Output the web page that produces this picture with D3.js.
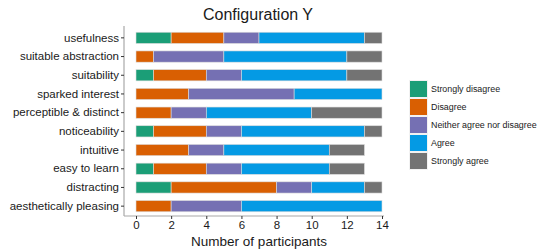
<!DOCTYPE html>
<meta charset="utf-8">
<style>
body { margin: 0; background: #fff; }
text { font-family: "Liberation Sans", Arial, sans-serif; fill: #1a1a1a; }
</style>
<svg width="546" height="252"></svg>
<script src="https://d3js.org/d3.v7.min.js"></script>
<script>

var items = ["usefulness", "suitable abstraction", "suitability", "sparked interest",
  "perceptible & distinct", "noticeability", "intuitive", "easy to learn",
  "distracting", "aesthetically pleasing"];
var levels = ["Strongly disagree", "Disagree", "Neither agree nor disagree", "Agree", "Strongly agree"];
var colors = ["#1b9e77", "#d95f02", "#7570b3", "#049ae4", "#737373"];

var stronglyDisagree = [2, 0, 1, 0, 0, 1, 0, 1, 2, 0];
var disagree         = [3, 1, 3, 3, 2, 3, 3, 3, 6, 2];
var neither          = [2, 4, 2, 6, 2, 2, 2, 2, 2, 4];
var agree            = [6, 7, 6, 5, 6, 7, 6, 5, 3, 8];
var stronglyAgree    = [1, 2, 2, 0, 4, 1, 2, 2, 1, 0];
var xTicks = [0, 2, 4, 6, 8, 10, 12, 14];

var series = [stronglyDisagree, disagree, neither, agree, stronglyAgree];
var table = items.map(function(name, i) {
  var row = { item: name };
  levels.forEach(function(l, j) { row[l] = series[j][i]; });
  return row;
});

var stack = d3.stack().keys(levels)(table);

var svg = d3.select("svg");

var x = d3.scaleLinear().domain([0, 14]).range([136, 382]);
var y = d3.scaleBand().domain(items).range([28.5, 215.5]).paddingInner(0.4).paddingOuter(0.2);

// title
svg.append("text")
  .attr("x", 258).attr("y", 20)
  .attr("text-anchor", "middle")
  .style("font-size", "16px")
  .text("Configuration Y");

// bars
svg.append("g").selectAll("g")
  .data(stack)
  .enter().append("g")
    .attr("fill", function(d, i) { return colors[i]; })
  .selectAll("rect")
  .data(function(d) { return d; })
  .enter().append("rect")
    .attr("x", function(d) { return x(d[0]); })
    .attr("y", function(d) { return y(d.data.item); })
    .attr("width", function(d) { return x(d[1]) - x(d[0]); })
    .attr("height", y.bandwidth())
    .attr("stroke", function(d) { return d[1] > d[0] ? "#dcdcdc" : "none"; })
    .attr("stroke-width", 0.6);

// axes
var yAxis = svg.append("g")
  .attr("transform", "translate(124,0)")
  .call(d3.axisLeft(y).tickSize(3).tickPadding(2));
var xAxis = svg.append("g")
  .attr("transform", "translate(0,216)")
  .call(d3.axisBottom(x).tickValues(xTicks).tickSize(3).tickPadding(2));

[yAxis, xAxis].forEach(function(a) {
  a.select(".domain").attr("stroke", "#a8a8a8").attr("stroke-width", 1.2);
  a.selectAll(".tick line").attr("stroke", "#333");
  a.selectAll(".tick text").style("font-size", "11.5px").attr("fill", "#1a1a1a")
    .style("font-family", "'Liberation Sans', Arial, sans-serif");
});
yAxis.select(".domain").attr("d", "M0,26V216");
xAxis.select(".domain").attr("d", "M124,0H384");

svg.append("text")
  .attr("x", 259).attr("y", 246)
  .attr("text-anchor", "middle")
  .style("font-size", "13.5px")
  .text("Number of participants");

// legend
var legend = svg.append("g").attr("transform", "translate(409,80)");
var key = legend.selectAll("g")
  .data(levels)
  .enter().append("g")
    .attr("transform", function(d, i) { return "translate(0," + i * 18 + ")"; });
key.append("rect")
  .attr("width", 19).attr("height", 18)
  .attr("fill", "#f2f2f2");
key.append("rect")
  .attr("x", 1).attr("y", 1)
  .attr("width", 17).attr("height", 16)
  .attr("fill", function(d, i) { return colors[i]; });
key.append("text")
  .attr("x", 22).attr("y", 12)
  .style("font-size", "8.9px")
  .text(function(d) { return d; });

</script>
